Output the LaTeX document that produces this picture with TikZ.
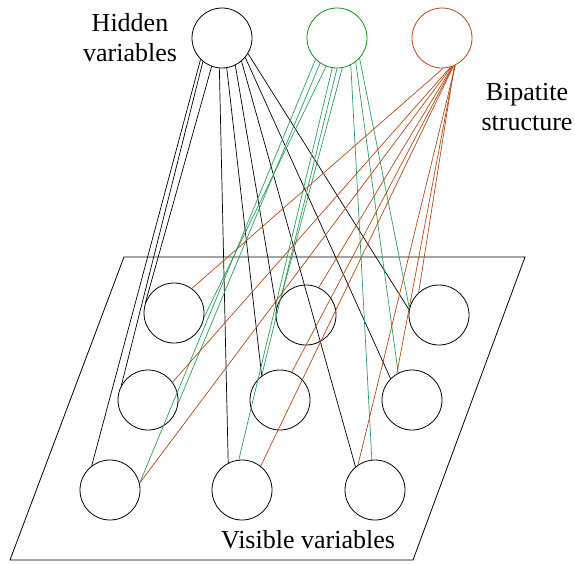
\documentclass[tikz,border=0pt]{standalone}
\usepackage{fontspec}
\setmainfont{Liberation Serif}
\usepackage{tikz}

\definecolor{hidgreen}{RGB}{20,140,20}
\definecolor{wiregreen}{RGB}{45,155,95}
\definecolor{rust}{RGB}{180,72,22}

\begin{document}
\begin{tikzpicture}[
            x = 1pt, y = -1pt, % work in pixels, y runs down
            unit/.style = {circle, draw, minimum size = 60pt, inner sep = 0pt, line width = 0.8pt},
            wire/.style = {line width = 0.7pt},
            note/.style = {align = center, font = \fontsize{26}{30}\selectfont}
        ]

        \useasboundingbox (0,0) rectangle (575,563);

        % hidden layer
        \node[unit] (H1) at (222,38) {};
        \node[unit, draw = hidgreen] (H2) at (337,38) {};
        \node[unit, draw = rust] (H3) at (442,38) {};

        % visible layer, on a tilted plane
        \draw[line width = 0.8pt] (124,257) -- (525,257) -- (413,560) -- (10,560) -- cycle;

        \node[unit] (V1) at (174,313) {};
        \node[unit] (V2) at (306,315) {};
        \node[unit] (V3) at (439,315) {};
        \node[unit] (V4) at (148,400) {};
        \node[unit] (V5) at (280,400) {};
        \node[unit] (V6) at (412,400) {};
        \node[unit] (V7) at (110,490) {};
        \node[unit] (V8) at (242,490) {};
        \node[unit] (V9) at (375,490) {};

        \node[note] (hid) at (130,38) {Hidden\\variables};
        \node[note] (bip) at (527,107) {Bipatite\\structure};
        \node[note] (vis) at (308,540) {Visible variables};

        \path[wire] (H1.225) edge (V7.127);
        \path[wire] (H1.231) edge (V4.151);
        \path[wire] (H1.250) edge (V1.160);
        \path[wire] (H1.265) edge (V8.117);
        \path[wire] (H1.279) edge (V5.127);
        \path[wire] (H1.296) edge (V2.167);
        \path[wire] (H1.310) edge (V9.130);
        \path[wire] (H1.320) edge (V6.135);
        \path[wire] (H1.329) edge (V3.170);

        \path[wire, wiregreen] (H2.225) edge (V7.13);
        \path[wire, wiregreen] (H2.236) edge (V4.354);
        \path[wire, wiregreen] (H2.249) edge (V1.352);
        \path[wire, wiregreen] (H2.261) edge (V8.96);
        \path[wire, wiregreen] (H2.270) edge (V5.127);
        \path[wire, wiregreen] (H2.280) edge (V2.145);
        \path[wire, wiregreen] (H2.297) edge (V9.96);
        \path[wire, wiregreen] (H2.308) edge (V6.117);
        \path[wire, wiregreen] (H2.318) edge (V3.167);

        \path[wire, rust] (H3.272) edge (V1.54);
        \path[wire, rust] (H3.286) edge (V4.36);
        \path[wire, rust] (H3.288) edge (V7.13);
        \path[wire, rust] (H3.290) edge (V2.65);
        \path[wire, rust] (H3.291) edge (V5.67);
        \path[wire, rust] (H3.292) edge (V8.52);
        \path[wire, rust] (H3.294) edge (V3.132);
        \path[wire, rust] (H3.295) edge (V6.120);
        \path[wire, rust] (H3.296) edge (V9.124);

    \end{tikzpicture}
\end{document}
